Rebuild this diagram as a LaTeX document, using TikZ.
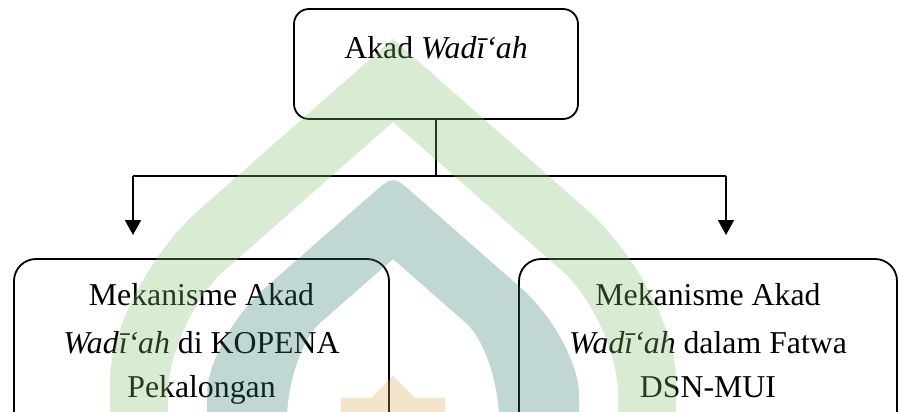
\documentclass[tikz,border=0pt]{standalone}
\usepackage{fontspec}
\setmainfont{Liberation Serif}
\usetikzlibrary{arrows.meta}
\definecolor{wmgreen}{RGB}{132,195,112}
\definecolor{wmteal}{RGB}{48,125,115}
\definecolor{wmtan}{RGB}{212,172,88}
\tikzset{
  boxstyle/.style={draw=black, line width=1.8pt, rounded corners=#1, inner sep=0pt},
  txt/.style={font=\fontsize{31.8}{45.5}\selectfont, inner sep=0pt, anchor=base},
  conn/.style={draw=black, line width=1.8pt},
  arr/.style={conn, -{Triangle[width=16pt,length=15pt]}},
  wm/.style={fill opacity=0.3}
}
\begin{document}
\begin{tikzpicture}[x=1pt,y=-1pt]
\useasboundingbox (0,0) rectangle (899,412);
\clip (0,0) rectangle (899,412);
\fill[white] (0,0) rectangle (899,412);

% boxes
\node[boxstyle=15pt, minimum width=284pt, minimum height=110pt] (top) at (436,64) {};
\node[boxstyle=22pt, minimum width=375pt, minimum height=190pt] (left) at (201.5,354) {};
\node[boxstyle=22pt, minimum width=378pt, minimum height=190pt] (right) at (708,354) {};

% texts
\node[txt] (toptext) at (436,59) {Akad \textit{Wadī‘ah}};
\node[txt] (l1) at (201.5,305) {Mekanisme Akad};
\node[txt] (l2) at (201.5,353) {\textit{Wadī‘ah} di KOPENA};
\node[txt] (l3) at (201.5,397) {Pekalongan};
\node[txt] (r1) at (708,305) {Mekanisme Akad};
\node[txt] (r2) at (708,353) {\textit{Wadī‘ah} dalam Fatwa};
\node[txt] (r3) at (708,397) {DSN-MUI};

% connectors
\coordinate (j) at (436,176);
\coordinate (cl) at (133,176);
\coordinate (cr) at (726,176);
\coordinate (al) at (133,235);
\coordinate (ar) at (726,235);
\draw[conn] (top.south) -- (j);
\draw[conn] (cl) -- (cr);
\draw[arr] (cl) -- (al);
\draw[arr] (cr) -- (ar);

% watermark
\fill[wm, wmgreen] (110,420) -- (110,380) .. controls (110,330) and (150.5,252.5) .. (200,209)
  -- (393,39) -- (586,209) .. controls (635.5,252.5) and (676,330) .. (676,380) -- (676,420)
  -- (618,420) -- (618,395) .. controls (618,354) and (592.4,297.5) .. (561,270)
  -- (393,122) -- (225,270) .. controls (193.6,297.5) and (168,354) .. (168,395) -- (168,420) -- cycle;
\fill[wm, wmteal] (207,420) -- (207,395) .. controls (207,364) and (233,316) .. (265,288)
  -- (372,194) .. controls (393,175.5) .. (414,194) -- (521,288) .. controls (553,316) and (579,364) .. (579,395)
  -- (579,420) -- (499,420) .. controls (499,383) and (484,339) .. (466,323)
  -- (393,259) -- (320,323) .. controls (302,339) and (287,383) .. (287,420) -- cycle;
\fill[wm, wmtan] (393,376) -- (371.3,397.7) -- (340.7,397.7) -- (340.7,428.3) -- (319,450)
  -- (340.7,471.7) -- (340.7,502.3) -- (371.3,502.3) -- (393,524) -- (414.7,502.3)
  -- (445.3,502.3) -- (445.3,471.7) -- (467,450) -- (445.3,428.3) -- (445.3,397.7)
  -- (414.7,397.7) -- cycle;
\end{tikzpicture}
\end{document}
